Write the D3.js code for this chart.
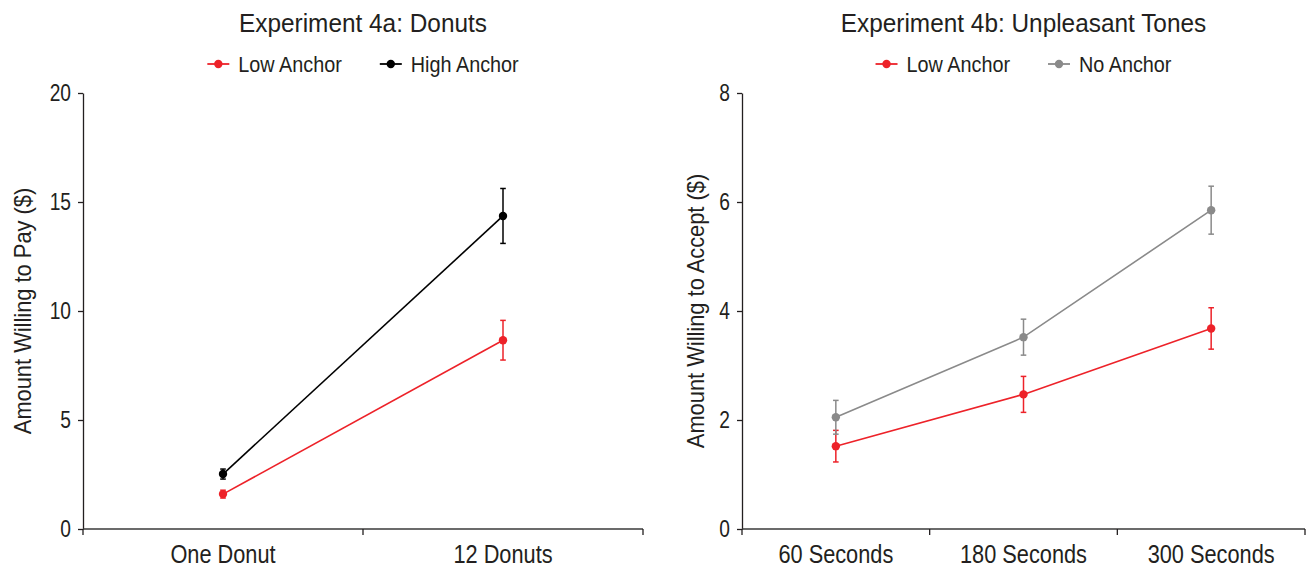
<!DOCTYPE html>
<html>
<head>
<meta charset="utf-8">
<script src="https://cdn.jsdelivr.net/npm/d3@7/dist/d3.min.js"></script>
<style>
  html, body { margin: 0; padding: 0; background: #fff; }
  svg { display: block; }
  text { font-family: "Liberation Sans", Arial, sans-serif; fill: #231f20; }
</style>
</head>
<body>
<svg id="chart" width="1306" height="569"></svg>
<script>
// ---------- Data ----------
const categoriesA = ["One Donut", "12 Donuts"];
const lowAnchorA = [1.60, 8.66];
const lowAnchorAErr = [0.18, 0.91];
const highAnchorA = [2.52, 14.36];
const highAnchorAErr = [0.23, 1.26];
const yTicksA = [0, 5, 10, 15, 20];

const categoriesB = ["60 Seconds", "180 Seconds", "300 Seconds"];
const lowAnchorB = [1.52, 2.47, 3.68];
const lowAnchorBErr = [0.29, 0.33, 0.38];
const noAnchorB = [2.05, 3.52, 5.85];
const noAnchorBErr = [0.31, 0.33, 0.44];
const yTicksB = [0, 2, 4, 6, 8];

const RED = "#ed2229", BLACK = "#000000", GREY = "#8a8a8a";

const svg = d3.select("#chart");

// horizontally condense text to mimic a condensed typeface
function squeeze(sel, k) {
  sel.each(function () {
    const L = this.getComputedTextLength();
    d3.select(this).attr("textLength", L * k).attr("lengthAdjust", "spacingAndGlyphs");
  });
  return sel;
}

function panel(cfg) {
  const g = svg.append("g");
  const x = d3.scaleBand().domain(cfg.categories).range([cfg.x0, cfg.x1]).padding(0);
  const y = d3.scaleLinear().domain([0, d3.max(cfg.yTicks)]).range([cfg.yBottom, cfg.yTop]);
  const cx = (cfg.x0 + cfg.x1) / 2;

  // title
  squeeze(g.append("text").attr("x", cx).attr("y", 32).attr("text-anchor", "middle")
    .style("font-size", "25px").text(cfg.title), 0.975);

  // y axis
  const ya = g.append("g").attr("transform", `translate(${cfg.x0},0)`)
    .call(d3.axisLeft(y).tickValues(cfg.yTicks).tickSize(5).tickSizeOuter(0).tickPadding(7));
  ya.attr("font-family", null).attr("font-size", null);
  ya.select(".domain").attr("stroke", "#231f20").attr("stroke-width", 1.3);
  ya.selectAll(".tick line").attr("stroke", "#231f20").attr("stroke-width", 1.3);
  squeeze(ya.selectAll(".tick text").style("font-size", "24px").attr("fill", "#231f20"), 0.8);

  // x axis: baseline + boundary ticks + centered labels
  const xa = g.append("g").attr("transform", `translate(0,${cfg.yBottom})`);
  xa.append("line").attr("x1", cfg.x0).attr("x2", cfg.x1).attr("y1", 0).attr("y2", 0)
    .attr("stroke", "#3a3a3a").attr("stroke-width", 1.3);
  const bounds = [cfg.x0].concat(cfg.categories.map(c => x(c) + x.bandwidth()));
  xa.selectAll("line.bt").data(bounds).enter().append("line").attr("class", "bt")
    .attr("x1", d => d).attr("x2", d => d).attr("y1", 0).attr("y2", 6)
    .attr("stroke", "#231f20").attr("stroke-width", 1.3);
  squeeze(xa.selectAll("text.xl").data(cfg.categories).enter().append("text").attr("class", "xl")
    .attr("x", d => x(d) + x.bandwidth() / 2).attr("y", 34).attr("text-anchor", "middle")
    .style("font-size", "25px").text(d => d), 0.87);

  // y label
  squeeze(g.append("text").attr("transform", `translate(${cfg.yLabelX},${(cfg.yTop + cfg.yBottom) / 2}) rotate(-90)`)
    .attr("text-anchor", "middle").style("font-size", "24px").text(cfg.yLabel), 0.91);

  // series
  cfg.series.forEach(s => {
    const pts = cfg.categories.map((c, i) => ({ c, v: s.values[i], e: s.err[i] }));
    const sg = g.append("g");
    sg.append("path").datum(pts)
      .attr("d", d3.line().x(d => x(d.c) + x.bandwidth() / 2).y(d => y(d.v)))
      .attr("fill", "none").attr("stroke", s.color).attr("stroke-width", 1.6);
    pts.forEach(d => {
      const px = x(d.c) + x.bandwidth() / 2;
      sg.append("line").attr("x1", px).attr("x2", px).attr("y1", y(d.v - d.e)).attr("y2", y(d.v + d.e))
        .attr("stroke", s.color).attr("stroke-width", 1.5);
      [d.v - d.e, d.v + d.e].forEach(v => {
        sg.append("line").attr("x1", px - 2.8).attr("x2", px + 2.8).attr("y1", y(v)).attr("y2", y(v))
          .attr("stroke", s.color).attr("stroke-width", 1.5);
      });
      sg.append("circle").attr("cx", px).attr("cy", y(d.v)).attr("r", 4.2).attr("fill", s.color);
    });
  });

  // legend
  const lg = g.append("g");
  const items = [];
  cfg.series.forEach(s => {
    const it = lg.append("g");
    it.append("line").attr("x1", 0).attr("x2", 22).attr("y1", 0).attr("y2", 0)
      .attr("stroke", s.color).attr("stroke-width", 1.8);
    it.append("circle").attr("cx", 11).attr("cy", 0).attr("r", 4.2).attr("fill", s.color);
    const t = it.append("text").attr("x", 31).attr("y", 8).style("font-size", "22px").text(s.name);
    squeeze(t, 0.9);
    items.push({ it, w: 31 + (+t.attr("textLength")) });
  });
  const gap = 38;
  const total = d3.sum(items, d => d.w) + gap * (items.length - 1);
  let xx = cx - total / 2;
  items.forEach(d => { d.it.attr("transform", `translate(${xx},64)`); xx += d.w + gap; });
}

panel({
  title: "Experiment 4a: Donuts",
  categories: categoriesA, yTicks: yTicksA,
  x0: 83, x1: 643, yTop: 93, yBottom: 529, yLabelX: 31,
  yLabel: "Amount Willing to Pay ($)",
  series: [
    { name: "Low Anchor", values: lowAnchorA, err: lowAnchorAErr, color: RED },
    { name: "High Anchor", values: highAnchorA, err: highAnchorAErr, color: BLACK }
  ]
});

panel({
  title: "Experiment 4b: Unpleasant Tones",
  categories: categoriesB, yTicks: yTicksB,
  x0: 742, x1: 1305, yTop: 93, yBottom: 529, yLabelX: 704,
  yLabel: "Amount Willing to Accept ($)",
  series: [
    { name: "Low Anchor", values: lowAnchorB, err: lowAnchorBErr, color: RED },
    { name: "No Anchor", values: noAnchorB, err: noAnchorBErr, color: GREY }
  ]
});
</script>
</body>
</html>
